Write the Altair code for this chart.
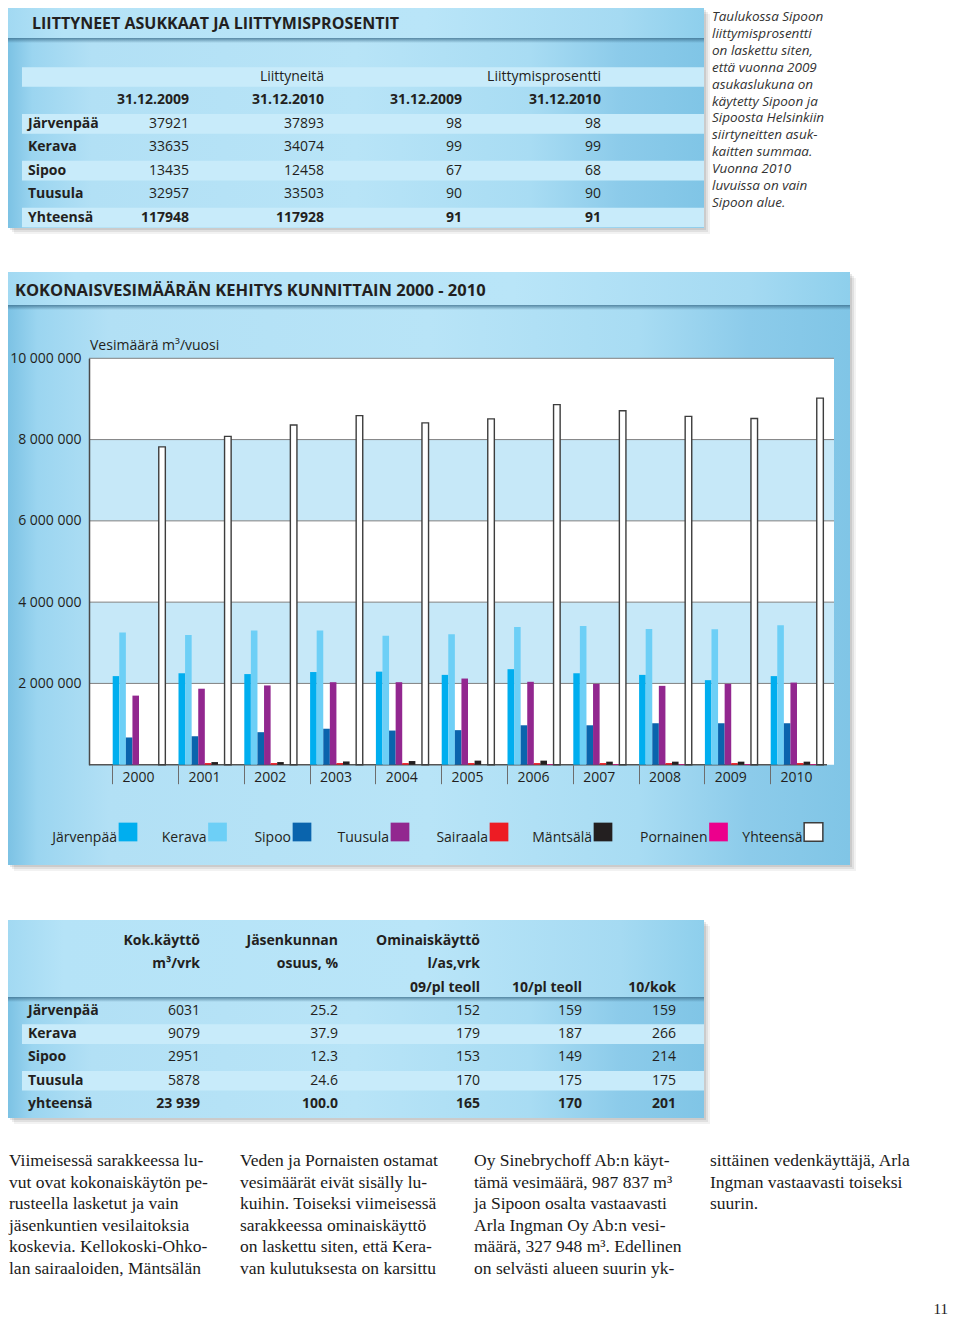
import altair as alt
import pandas as pd

W, H = 944, 1310


def P(v):
    return v - 8


SANS = "Open Sans"
SERIF = "Liberation Serif"
INK = "#231f20"

# ---------------- data ----------------
top_title = "LIITTYNEET ASUKKAAT JA LIITTYMISPROSENTIT"
top_group_headers = ["Liittyneitä", "Liittymisprosentti"]
top_date_headers = ["31.12.2009", "31.12.2010", "31.12.2009", "31.12.2010"]
top_names = ["Järvenpää", "Kerava", "Sipoo", "Tuusula", "Yhteensä"]
liittyneita_2009 = [37921, 33635, 13435, 32957, 117948]
liittyneita_2010 = [37893, 34074, 12458, 33503, 117928]
prosentti_2009 = [98, 99, 67, 90, 91]
prosentti_2010 = [98, 99, 68, 90, 91]

side_note = ["Taulukossa Sipoon", "liittymisprosentti", "on laskettu siten,", "että vuonna 2009",
             "asukaslukuna on", "käytetty Sipoon ja", "Sipoosta Helsinkiin", "siirtyneitten asuk-",
             "kaitten summaa.", "Vuonna 2010", "luvuissa on vain", "Sipoon alue."]

chart_title = "KOKONAISVESIMÄÄRÄN KEHITYS KUNNITTAIN 2000 - 2010"
y_title = "Vesimäärä m³/vuosi"
years = ["2000", "2001", "2002", "2003", "2004", "2005", "2006", "2007", "2008", "2009", "2010"]
series = ["Järvenpää", "Kerava", "Sipoo", "Tuusula", "Sairaala", "Mäntsälä", "Pornainen", "Yhteensä"]
jarvenpaa = [2180000, 2250000, 2230000, 2280000, 2290000, 2210000, 2350000, 2250000, 2210000, 2080000, 2180000]
kerava = [3250000, 3190000, 3300000, 3300000, 3170000, 3210000, 3390000, 3410000, 3340000, 3330000, 3430000]
sipoo = [670000, 700000, 800000, 885000, 840000, 850000, 970000, 970000, 1020000, 1020000, 1020000]
tuusula = [1700000, 1870000, 1950000, 2030000, 2030000, 2120000, 2040000, 1990000, 1940000, 1990000, 2020000]
sairaala = [0, 40000, 40000, 40000, 40000, 40000, 40000, 40000, 40000, 40000, 40000]
mantsala = [0, 65000, 65000, 80000, 90000, 100000, 100000, 75000, 75000, 75000, 75000]
pornainen = [0, 0, 0, 0, 0, 0, 15000, 15000, 15000, 15000, 15000]
yhteensa = [7820000, 8080000, 8360000, 8590000, 8410000, 8510000, 8860000, 8710000, 8570000, 8520000, 9020000]
y_ticks = [2000000, 4000000, 6000000, 8000000, 10000000]
band_lo = [2000000, 6000000]
band_hi = [4000000, 8000000]

series_colors = ["#00aeef", "#6dcff6", "#0a64ad", "#92278f", "#ed1c24", "#231f20", "#ec008c", "#ffffff"]
series_strokes = ["transparent"] * 7 + ["#3d3d3d"]

bottom_head_1 = ["Kok.käyttö", "Jäsenkunnan", "Ominaiskäyttö"]
bottom_head_2 = ["m³/vrk", "osuus, %", "l/as,vrk"]
bottom_head_3 = ["09/pl teoll", "10/pl teoll", "10/kok"]
bottom_names = ["Järvenpää", "Kerava", "Sipoo", "Tuusula", "yhteensä"]
kok_kaytto = ["6031", "9079", "2951", "5878", "23 939"]
osuus = ["25.2", "37.9", "12.3", "24.6", "100.0"]
omin_09 = ["152", "179", "153", "170", "165"]
omin_10 = ["159", "187", "149", "175", "170"]
kok_10 = ["159", "266", "214", "175", "201"]

body_col1 = ["Viimeisessä sarakkeessa lu-", "vut ovat kokonaiskäytön pe-", "rusteella lasketut ja vain",
             "jäsenkuntien vesilaitoksia", "koskevia. Kellokoski-Ohko-", "lan sairaaloiden, Mäntsälän"]
body_col2 = ["Veden ja Pornaisten ostamat", "vesimäärät eivät sisälly lu-", "kuihin. Toiseksi viimeisessä",
             "sarakkeessa ominaiskäyttö", "on laskettu siten, että Kera-", "van kulutuksesta on karsittu"]
body_col3 = ["Oy Sinebrychoff Ab:n käyt-", "tämä vesimäärä, 987 837 m³", "ja Sipoon osalta vastaavasti",
             "Arla Ingman Oy Ab:n vesi-", "määrä, 327 948 m³. Edellinen", "on selvästi alueen suurin yk-"]
body_col4 = ["sittäinen vedenkäyttäjä, Arla", "Ingman vastaavasti toiseksi", "suurin."]
page_number = "11"

# ---------------- helpers ----------------
one = pd.DataFrame({"k": [0]})


def grad(stops, vertical=False):
    return alt.LinearGradient(
        gradient="linear", x1=0, y1=0, x2=0 if vertical else 1, y2=1 if vertical else 0,
        stops=[alt.GradientStop(offset=o, color=c) for o, c in stops])


PANEL = grad([(0, "#7cc2e4"), (0.035, "#9bd5f0"), (0.12, "#b2e0f5"), (0.5, "#b8e4f7"),
              (0.75, "#a8dcf3"), (0.88, "#8ccbea"), (1, "#80c5e6")])
BARFILL = grad([(0, "#a2d9f2"), (0.08, "#b5e3f7"), (0.6, "#b9e5f8"), (0.88, "#a5daf2"), (1, "#8ecfec")])
SHADE = grad([(0, "rgba(55,105,135,0.75)"), (1, "rgba(55,105,135,0)")], vertical=True)


def rect(x0, y0, x1, y1, **kw):
    return alt.Chart(one).mark_rect(**kw).encode(
        x=alt.value(P(x0)), x2=alt.value(P(x1)), y=alt.value(P(y0)), y2=alt.value(P(y1)))


def label(x, y, s, **kw):
    return alt.Chart(one).mark_text(text=s, **kw).encode(x=alt.value(P(x)), y=alt.value(P(y)))


def panel(x0, y0, x1, y1):
    return [
        rect(x0 + 6, y0 + 6, x1 + 6, y1 + 6, fill="#000000", fillOpacity=0.05),
        rect(x0 + 4, y0 + 4, x1 + 4, y1 + 4, fill="#000000", fillOpacity=0.07),
        rect(x0 + 2, y0 + 2, x1 + 2, y1 + 2, fill="#000000", fillOpacity=0.09),
        rect(x0, y0, x1, y1, fill=PANEL),
    ]


def table_layers(cells, xs, ys, band_rows):
    df = pd.DataFrame(cells, columns=["r", "c", "t", "w", "a"])
    out = []
    bdf = pd.DataFrame({"r": band_rows})
    out.append(alt.Chart(bdf).transform_calculate(lo="datum.r - 0.42", hi="datum.r + 0.42")
               .mark_rect(fill="#c8ebfa").encode(
                   x=alt.value(P(22)), x2=alt.value(P(704)),
                   y=alt.Y("lo:Q", scale=ys, axis=None), y2="hi:Q"))
    for w in ["normal", "bold"]:
        for a in ["left", "right"]:
            out.append(alt.Chart(df).transform_filter((alt.datum.w == w) & (alt.datum.a == a))
                       .mark_text(align=a, baseline="middle", fontSize=14, fontWeight=w, color=INK)
                       .encode(x=alt.X("c:Q", scale=xs, axis=None),
                               y=alt.Y("r:Q", scale=ys, axis=None), text="t:N"))
    return out


layers = []
LEFT = 8  # page x where the drawing surface starts

# ---------------- top table ----------------
layers += panel(LEFT, 8, 704, 228)
layers.append(rect(LEFT, 8, 704, 38, fill=BARFILL))
layers.append(rect(LEFT, 38, 704, 43, fill=SHADE))
layers.append(label(32, 24, top_title, fontSize=16, fontWeight="bold", color=INK,
                    align="left", baseline="middle"))

top_cells = []
for j, t in zip([2, 4], top_group_headers):
    top_cells.append((0, j, t, "normal", "right"))
for j, t in enumerate(top_date_headers, start=1):
    top_cells.append((1, j, t, "bold", "right"))
for i, name in enumerate(top_names):
    r = 2 + i
    w = "bold" if i == len(top_names) - 1 else "normal"
    top_cells.append((r, 0, name, "bold", "left"))
    for j, col in enumerate([liittyneita_2009, liittyneita_2010, prosentti_2009, prosentti_2010], start=1):
        top_cells.append((r, j, str(col[i]), w, "right"))
xs_top = alt.Scale(domain=[0, 1, 2, 3, 4], range=[P(28), P(189), P(324), P(462), P(601)], nice=False, zero=False)
ys_top = alt.Scale(domain=[0, 6], range=[P(77), P(217.5)], nice=False, zero=False)
layers += table_layers(top_cells, xs_top, ys_top, [0, 2, 4, 6])

layers.append(alt.Chart(one).mark_text(text=side_note, fontSize=13.5, fontStyle="italic", color="#333333",
                                       align="left", baseline="alphabetic", lineHeight=16.9)
              .encode(x=alt.value(P(712)), y=alt.value(P(21))))

# ---------------- bar chart panel ----------------
layers += panel(LEFT, 272, 850, 865)
layers.append(rect(LEFT, 272, 850, 305, fill=BARFILL))
layers.append(rect(LEFT, 305, 850, 310, fill=SHADE))
layers.append(label(15, 290.5, chart_title, fontSize=16.5, fontWeight="bold", color=INK,
                    align="left", baseline="middle"))

yscale = alt.Scale(domain=[0, 10000000], range=[P(764.7), P(358.3)], nice=False, zero=False)

plot_df = pd.DataFrame({"lo": [0], "hi": [10000000]})
layers.append(alt.Chart(plot_df).mark_rect(fill="#ffffff").encode(
    x=alt.value(P(89)), x2=alt.value(P(834)),
    y=alt.Y("lo:Q", scale=yscale, axis=None), y2="hi:Q"))
bands_df = pd.DataFrame({"lo": band_lo, "hi": band_hi})
layers.append(alt.Chart(bands_df).mark_rect(fill="#c6e8f8").encode(
    x=alt.value(P(89)), x2=alt.value(P(834)),
    y=alt.Y("lo:Q", scale=yscale, axis=None), y2="hi:Q"))
grid_df = pd.DataFrame({"v": y_ticks})
layers.append(alt.Chart(grid_df).mark_rule(color="#808080", strokeWidth=1).encode(
    x=alt.value(P(89)), x2=alt.value(P(834)),
    y=alt.Y("v:Q", scale=yscale, axis=None)))
base_df = pd.DataFrame({"v": [0]})
layers.append(alt.Chart(base_df).mark_rule(color="#555555", strokeWidth=1.5).encode(
    x=alt.value(P(89)), x2=alt.value(P(827)),
    y=alt.Y("v:Q", scale=yscale, axis=None)))

bar_rows = []
for s, vals in zip(series, [jarvenpaa, kerava, sipoo, tuusula, sairaala, mantsala, pornainen, yhteensa]):
    for yr, v in zip(years, vals):
        bar_rows.append((yr, s, v))
bars_df = pd.DataFrame(bar_rows, columns=["year", "series", "value"])

band0 = 112.7
step = 65.8
layers.append(
    alt.Chart(bars_df).mark_bar(strokeWidth=1.4).encode(
        x=alt.X("year:N",
                scale=alt.Scale(domain=years, range=[P(band0), P(band0 + step * len(years))],
                                paddingInner=0, paddingOuter=0),
                axis=alt.Axis(orient="bottom", offset=-(H - P(764.7)), domain=False, zindex=2,
                              ticks=True, tickSize=19, tickColor="#6d6d6d", tickWidth=1,
                              bandPosition=0, labelOffset=-7, labelPadding=-13,
                              labelFontSize=14, labelColor=INK, labelAngle=0, title="")),
        xOffset=alt.XOffset("series:N",
                            scale=alt.Scale(domain=series + ["_a", "_b"], paddingInner=0, paddingOuter=0)),
        y=alt.Y("value:Q", scale=yscale,
                axis=alt.Axis(orient="left", offset=-P(89), values=y_ticks, ticks=False, grid=False,
                              domain=True, domainColor="#4a4a4a", domainWidth=1.5, zindex=2,
                              labelPadding=8, labelFontSize=14, labelColor=INK,
                              labelExpr="replace(format(datum.value, ','), regexp(',', 'g'), ' ')",
                              title="")),
        fill=alt.Fill("series:N", scale=alt.Scale(domain=series, range=series_colors), legend=None),
        stroke=alt.Stroke("series:N", scale=alt.Scale(domain=series, range=series_strokes), legend=None),
    )
)
layers.append(label(90, 346, y_title, fontSize=14, color=INK, align="left", baseline="middle"))

# legend
leg_df = pd.DataFrame({"series": series, "i": list(range(len(series)))})
xs_leg = alt.Scale(domain=list(range(len(series))),
                   range=[P(v) for v in [128, 217.5, 302, 400, 499, 603, 718.5, 813.5]],
                   nice=False, zero=False)
layers.append(alt.Chart(leg_df).mark_square(size=350, opacity=1, strokeWidth=1.5).encode(
    x=alt.X("i:Q", scale=xs_leg, axis=None), y=alt.value(P(832)),
    fill=alt.Fill("series:N", scale=alt.Scale(domain=series, range=series_colors), legend=None),
    stroke=alt.Stroke("series:N", scale=alt.Scale(domain=series, range=series_strokes), legend=None)))
layers.append(alt.Chart(leg_df).mark_text(align="right", baseline="alphabetic", dx=-11, fontSize=14,
                                          color=INK).encode(
    x=alt.X("i:Q", scale=xs_leg, axis=None), y=alt.value(P(842)), text="series:N"))

# ---------------- bottom table ----------------
layers += panel(LEFT, 920, 704, 1118)
layers.append(rect(LEFT, 920, 704, 997, fill=BARFILL))
layers.append(rect(LEFT, 997, 704, 1002, fill=SHADE))

bottom_cells = []
for j, t in enumerate(bottom_head_1, start=1):
    bottom_cells.append((0, j, t, "bold", "right"))
for j, t in enumerate(bottom_head_2, start=1):
    bottom_cells.append((1, j, t, "bold", "right"))
for j, t in enumerate(bottom_head_3, start=3):
    bottom_cells.append((2, j, t, "bold", "right"))
for i, name in enumerate(bottom_names):
    r = 3 + i
    w = "bold" if i == len(bottom_names) - 1 else "normal"
    bottom_cells.append((r, 0, name, "bold", "left"))
    for j, col in enumerate([kok_kaytto, osuus, omin_09, omin_10, kok_10], start=1):
        bottom_cells.append((r, j, col[i], w, "right"))
xs_bot = alt.Scale(domain=[0, 1, 2, 3, 4, 5], range=[P(28), P(200), P(338), P(480), P(582), P(676)],
                   nice=False, zero=False)
ys_bot = alt.Scale(domain=[0, 7], range=[P(941), P(1104)], nice=False, zero=False)
layers += table_layers(bottom_cells, xs_bot, ys_bot, [4, 6])

# ---------------- body text ----------------
for x0, lines in zip([9, 240, 474, 710], [body_col1, body_col2, body_col3, body_col4]):
    layers.append(alt.Chart(one).mark_text(text=lines, font=SERIF, fontSize=17.5, color="#1a1a1a",
                                           align="left", baseline="alphabetic", lineHeight=21.6)
                  .encode(x=alt.value(P(x0)), y=alt.value(P(1166))))
layers.append(label(948, 1314, page_number, font=SERIF, fontSize=15, color="#1a1a1a",
                    align="right", baseline="alphabetic"))

chart = (
    alt.layer(*layers)
    .resolve_scale(x="independent", y="independent", fill="independent", stroke="independent")
    .properties(width=W, height=H, padding=0, autosize=alt.AutoSizeParams(type="none"),
                background="#ffffff")
    .configure(font=SANS)
    .configure_view(strokeWidth=0)
)

chart.save("out.html", embed_options={"renderer": "svg", "actions": False})
